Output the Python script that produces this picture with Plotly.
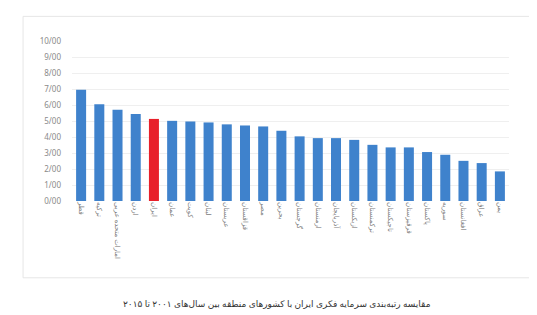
import plotly.graph_objects as go

countries = ["قطر", "ترکیه", "امارات متحده عربی", "اردن", "ایران", "عمان", "کویت", "لبنان",
             "عربستان", "قزاقستان", "مصر", "بحرین", "گرجستان", "ارمنستان", "آذربایجان",
             "ازبکستان", "ترکمنستان", "تاجیکستان", "قرقیزستان", "پاکستان", "سوریه",
             "افغانستان", "عراق", "یمن"]
values = [6.95, 6.05, 5.70, 5.43, 5.13, 5.01, 4.97, 4.91, 4.79, 4.72, 4.66, 4.39,
          4.04, 3.93, 3.93, 3.82, 3.51, 3.35, 3.35, 3.06, 2.89, 2.51, 2.37, 1.85]
highlight = "ایران"
y_ticks = [0, 1, 2, 3, 4, 5, 6, 7, 8, 9, 10]
y_tick_labels = ["0/00", "1/00", "2/00", "3/00", "4/00", "5/00", "6/00", "7/00", "8/00", "9/00", "10/00"]
caption = "مقایسه رتبه‌بندی سرمایه فکری ایران با کشورهای منطقه بین سال‌های ۲۰۰۱ تا ۲۰۱۵"

colors = ["#e8202a" if c == highlight else "#3f82cc" for c in countries]

fig = go.Figure(go.Bar(x=countries, y=values, marker=dict(color=colors, line=dict(width=0))))

fig.update_layout(
    width=537, height=315,
    margin=dict(l=64, r=36, t=33, b=122),
    paper_bgcolor="white", plot_bgcolor="white",
    bargap=0.45, showlegend=False,
    font=dict(family="Noto Sans, DejaVu Sans", color="#777777"),
    xaxis=dict(tickangle=90, tickfont=dict(size=7, color="#808080"), showgrid=False,
               showline=False, ticks="", type="category"),
    yaxis=dict(range=[0, 10], tickvals=y_ticks, ticktext=y_tick_labels,
               tickfont=dict(size=8, color="#8a8a8a"), showgrid=True,
               gridcolor="#efefef", gridwidth=1, zeroline=False, ticklabelstandoff=10),
    shapes=[dict(type="rect", xref="paper", yref="paper", x0=-0.112, x1=1.050,
                 y0=-0.48, y1=1.154, line=dict(color="#e6e6e6", width=1), layer="below")],
    annotations=[dict(text=caption, xref="paper", yref="paper", x=0.47, y=-0.643,
                      showarrow=False, font=dict(size=9, color="#333333"),
                      xanchor="center", yanchor="middle")],
)

fig.write_html("out.html")
